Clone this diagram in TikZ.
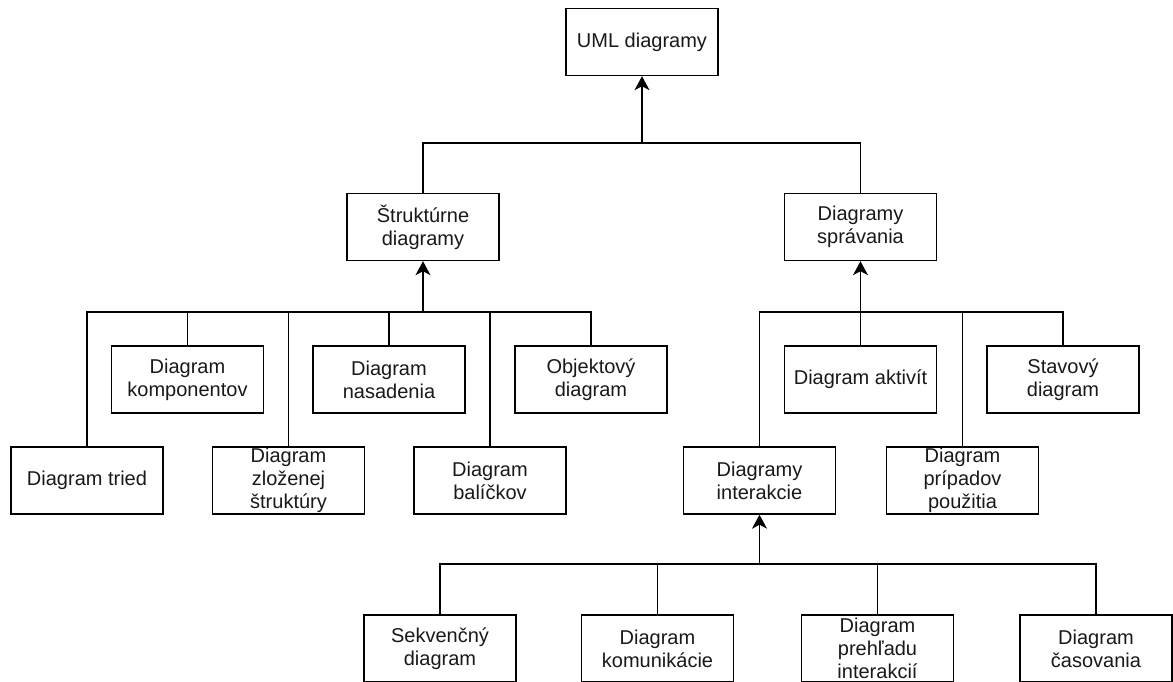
\documentclass[tikz,border=0pt]{standalone}
\usepackage{fontspec}
\setmainfont{Liberation Sans}
\usetikzlibrary{arrows.meta}
\begin{document}
\begin{tikzpicture}[x=1pt,y=-1pt,
  box/.style={draw=black,line width=1.4pt,fill=white,rectangle,
    minimum width=152pt,minimum height=67pt,inner sep=0pt,align=center,
    font=\fontsize{20pt}{23pt}\selectfont,text=black!90},
  wire/.style={draw=black,line width=1.4pt,line join=miter},
  up/.style={wire,-{Stealth[length=14pt,width=15pt,inset=4pt]}}]
\useasboundingbox (0,0) rectangle (1173,682);

% root and second level
\node[box] (uml) at (642,42) {UML diagramy};
\node[box] (str) at (423,227) {Štruktúrne\\diagramy};
\node[box] (beh) at (860.5,227) {Diagramy\\správania};

% structure diagrams
\node[box] (tried) at (87,480.5) {Diagram tried};
\node[box] (komp)  at (187.5,379.5) {Diagram\\komponentov};
\node[box] (zloz)  at (288.5,480.5) {Diagram\\zloženej\\štruktúry};
\node[box] (nas)   at (389,379.5) {Diagram\\nasadenia};
\node[box] (bal)   at (490,480.5) {Diagram\\balíčkov};
\node[box] (obj)   at (591,379.5) {Objektový\\diagram};

% behaviour diagrams
\node[box] (inter) at (759.5,480.5) {Diagramy\\interakcie};
\node[box] (akt)   at (860.5,379.5) {Diagram aktivít};
\node[box] (pri)   at (962.5,480.5) {Diagram\\prípadov\\použitia};
\node[box] (stav)  at (1063,379.5) {Stavový\\diagram};

% interaction diagrams
\node[box] (sek)  at (440,648.5) {Sekvenčný\\diagram};
\node[box] (kom)  at (657.5,648.5) {Diagram\\komunikácie};
\node[box] (preh) at (877.5,648.5) {Diagram\\prehľadu\\interakcií};
\node[box] (cas)  at (1096,648.5) {Diagram\\časovania};

% junction points of the tree buses
\coordinate (topbus)   at (642,143);
\coordinate (strbus)   at (423,312);
\coordinate (behbus)   at (860.5,312);
\coordinate (interbus) at (759.5,564);

\draw[up] (topbus) -- (uml.south);
\draw[wire] (str.north) |- (topbus);
\draw[wire] (beh.north) |- (topbus);

\draw[up] (strbus) -- (str.south);
\foreach \n in {tried,komp,zloz,nas,bal,obj}
  \draw[wire] (\n.north) |- (strbus);

\draw[up] (behbus) -- (beh.south);
\foreach \n in {inter,akt,pri,stav}
  \draw[wire] (\n.north) |- (behbus);

\draw[up] (interbus) -- (inter.south);
\foreach \n in {sek,kom,preh,cas}
  \draw[wire] (\n.north) |- (interbus);
\end{tikzpicture}
\end{document}
